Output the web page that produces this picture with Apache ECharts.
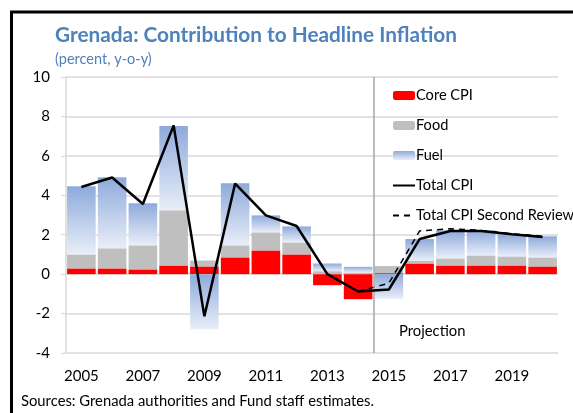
<!DOCTYPE html>
<html>
<head>
<meta charset="utf-8">
<style>
  html, body { margin: 0; padding: 0; background: #fff; }
  #chart { width: 573px; height: 413px; }
</style>
<script src="https://cdn.jsdelivr.net/npm/echarts@6/dist/echarts.min.js"></script>
</head>
<body>
<div id="chart"></div>
<script>
const years = ["2005", "2006", "2007", "2008", "2009", "2010", "2011", "2012",
  "2013", "2014", "2015", "2016", "2017", "2018", "2019", "2020"];
const coreCpi = [0.29, 0.29, 0.24, 0.44, 0.39, 0.85, 1.20, 1.00,
  -0.56, -1.27, 0.05, 0.54, 0.44, 0.44, 0.44, 0.39];
const food = [0.71, 1.02, 1.22, 2.80, 0.30, 0.61, 0.92, 0.61,
  0.15, 0.08, 0.36, 0.15, 0.36, 0.51, 0.46, 0.46];
const fuel = [3.46, 3.61, 2.13, 4.27, -2.80, 3.15, 0.86, 0.81,
  0.39, 0.29, -1.25, 1.09, 1.42, 1.27, 1.12, 1.07];
const totalCpi = [4.42, 4.90, 3.56, 7.54, -2.14, 4.59, 2.98, 2.44,
  0.00, -0.88, -0.78, 1.78, 2.19, 2.19, 2.02, 1.88];
const totalCpiSecondReview = [null, null, null, null, null, null, null, null,
  null, -0.88, -0.46, 2.19, 2.30, 2.22, 2.05, 1.92];
const yTicks = { min: -4, max: 10, interval: 2 };
const projectionBoundary = 2014.5;

const font = "Lato, 'Noto Sans', sans-serif";
const titleBlue = "#4f81bd";
const gridGray = "#d9d9d9";

const fuelGradient = new echarts.graphic.LinearGradient(0, 0, 0, 1, [
  { offset: 0, color: "#8eaadb" },
  { offset: 1, color: "#e9eef8" },
]);

const chart = echarts.init(document.getElementById("chart"), null, { renderer: "canvas" });

chart.setOption({
  animation: false,
  textStyle: { fontFamily: font },
  title: [
    {
      text: "Grenada: Contribution to Headline Inflation",
      left: 50,
      top: 20,
      textStyle: { fontSize: 20.8, fontWeight: "bold", color: titleBlue, fontFamily: font },
    },
    {
      text: "(percent, y-o-y)",
      left: 50,
      top: 47,
      textStyle: { fontSize: 14.5, fontWeight: "normal", color: titleBlue, fontFamily: font },
    },
  ],
  legend: {
    orient: "vertical",
    left: 387,
    top: 83,
    itemWidth: 22,
    itemHeight: 9,
    itemGap: 15,
    textStyle: { fontSize: 14.6, color: "#000", fontFamily: font, padding: [0, 0, 0, -4] },
    data: [
      { name: "Core CPI" },
      { name: "Food" },
      { name: "Fuel" },
      { name: "Total CPI", itemStyle: { opacity: 0 } },
      { name: "Total CPI Second Review", itemStyle: { opacity: 0 } },
    ],
  },
  grid: {
    left: 66,
    right: 15,
    top: 77,
    bottom: 60,
  },
  xAxis: [
    {
      type: "category",
      data: years,
      axisLine: { show: false },
      axisTick: { show: false },
      axisLabel: { interval: 1, fontSize: 15, color: "#000", margin: 16, fontFamily: font },
      splitLine: { show: false },
    },
    {
      type: "value",
      min: 2004.5,
      max: 2020.5,
      show: false,
    },
  ],
  yAxis: {
    type: "value",
    min: yTicks.min,
    max: yTicks.max,
    interval: yTicks.interval,
    axisLine: { show: true, lineStyle: { color: gridGray, width: 1.5 } },
    axisTick: { show: true, inside: false, length: 5, lineStyle: { color: gridGray } },
    axisLabel: { fontSize: 15, color: "#000", margin: 16, fontFamily: font },
    splitLine: { lineStyle: { color: gridGray, width: 1.5 } },
  },
  series: [
    {
      name: "Core CPI",
      type: "bar",
      stack: "contrib",
      data: coreCpi,
      barCategoryGap: "7%",
      itemStyle: { color: "#ff0000" },
    },
    {
      name: "Food",
      type: "bar",
      stack: "contrib",
      data: food,
      itemStyle: { color: "#bfbfbf" },
    },
    {
      name: "Fuel",
      type: "bar",
      stack: "contrib",
      data: fuel,
      itemStyle: { color: fuelGradient },
    },
    {
      name: "Total CPI",
      type: "line",
      data: totalCpi,
      symbol: "none",
      lineStyle: { color: "#000", width: 2.5 },
      itemStyle: { color: "#000" },
      z: 5,
    },
    {
      name: "Total CPI Second Review",
      type: "line",
      data: totalCpiSecondReview,
      symbol: "none",
      lineStyle: { color: "#000", width: 1.5, type: [6, 5] },
      itemStyle: { color: "#000" },
      z: 4,
    },
    {
      name: "projection",
      type: "line",
      xAxisIndex: 1,
      data: [],
      silent: true,
      markLine: {
        symbol: "none",
        silent: true,
        label: { show: false },
        lineStyle: { color: "#a6a6a6", width: 1.5, type: "solid" },
        data: [{ xAxis: projectionBoundary }],
      },
    },
  ],
  graphic: [
    {
      type: "polyline",
      shape: { points: [[11.5, 413], [11.5, 12], [573, 12]] },
      style: { stroke: "#000", lineWidth: 3, fill: null },
    },
    {
      type: "text",
      left: 399,
      top: 324,
      style: { text: "Projection", fill: "#000", font: "14.8px " + font },
    },
    {
      type: "text",
      left: 21,
      top: 394,
      style: { text: "Sources: Grenada authorities and Fund staff estimates.", fill: "#000", font: "14.8px " + font },
    },
  ],
});
</script>
</body>
</html>
